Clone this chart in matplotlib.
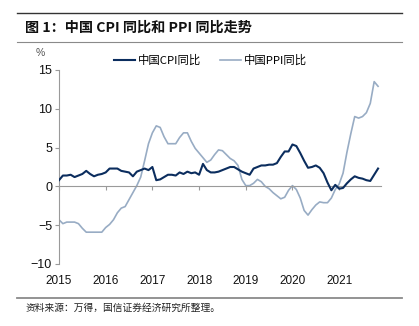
import matplotlib
matplotlib.use('Agg')
from matplotlib import pyplot as plt
from matplotlib.lines import Line2D

plt.rcParams['font.family'] = ['Liberation Sans', 'Noto Sans CJK SC', 'DejaVu Sans']
plt.rcParams['axes.unicode_minus'] = True

# 月度同比数据：2015年1月 — 2021年11月
cpi = [0.8, 1.4, 1.4, 1.5, 1.2, 1.4, 1.6, 2.0, 1.6, 1.3, 1.5, 1.6,
       1.8, 2.3, 2.3, 2.3, 2.0, 1.9, 1.8, 1.3, 1.9, 2.1, 2.3, 2.1,
       2.5, 0.8, 0.9, 1.2, 1.5, 1.5, 1.4, 1.8, 1.6, 1.9, 1.7, 1.8,
       1.5, 2.9, 2.1, 1.8, 1.8, 1.9, 2.1, 2.3, 2.5, 2.5, 2.2, 1.9,
       1.7, 1.5, 2.3, 2.5, 2.7, 2.7, 2.8, 2.8, 3.0, 3.8, 4.5, 4.5,
       5.4, 5.2, 4.3, 3.3, 2.4, 2.5, 2.7, 2.4, 1.7, 0.5, -0.5, 0.2,
       -0.3, -0.2, 0.4, 0.9, 1.3, 1.1, 1.0, 0.8, 0.7, 1.5, 2.3]
ppi = [-4.3, -4.8, -4.6, -4.6, -4.6, -4.8, -5.4, -5.9, -5.9, -5.9, -5.9, -5.9,
       -5.3, -4.9, -4.3, -3.4, -2.8, -2.6, -1.7, -0.8, 0.1, 1.2, 3.3, 5.5,
       6.9, 7.8, 7.6, 6.4, 5.5, 5.5, 5.5, 6.3, 6.9, 6.9, 5.8, 4.9,
       4.3, 3.7, 3.1, 3.4, 4.1, 4.7, 4.6, 4.1, 3.6, 3.3, 2.7, 0.9,
       0.1, 0.1, 0.4, 0.9, 0.6, 0.0, -0.3, -0.8, -1.2, -1.6, -1.4, -0.5,
       0.1, -0.4, -1.5, -3.1, -3.7, -3.0, -2.4, -2.0, -2.1, -2.1, -1.5, -0.4,
       0.3, 1.7, 4.4, 6.8, 9.0, 8.8, 9.0, 9.5, 10.7, 13.5, 12.9]
years = ['2015', '2016', '2017', '2018', '2019', '2020', '2021']
yticks = [15, 10, 5, 0, -5, -10]

cpi_color = '#0b2d5e'
ppi_color = '#98acc4'
axis_grey = '#9a9a9a'

fig = plt.figure(figsize=(4.19, 3.26), dpi=100)
ax = fig.add_axes([0.1408, 0.1902, 0.768, 0.5951])

months = range(len(cpi))
ax.plot(months, cpi, color=cpi_color, lw=1.5, zorder=3)
ax.plot(months, ppi, color=ppi_color, lw=1.2, zorder=2)

ax.set_ylim(-10, 15)
ax.set_xlim(0, len(cpi) - 0.3)
ax.set_yticks(yticks)
ax.set_yticklabels([str(v).replace('-', '\u2212') for v in yticks])
ax.tick_params(axis='y', length=3, width=0.8, color=axis_grey, labelsize=9,
               labelcolor='#111111', pad=2)

# x 轴刻度线在零线上，年份标签放在底部
ax.spines['bottom'].set_position(('data', 0))
ax.spines['bottom'].set_color(axis_grey)
ax.spines['bottom'].set_linewidth(0.8)
ax.spines['left'].set_color(axis_grey)
ax.spines['left'].set_linewidth(0.8)
ax.spines['top'].set_visible(False)
ax.spines['right'].set_visible(False)
year_ticks = [12 * i for i in range(len(years))]
ax.set_xticks(year_ticks)
ax.tick_params(axis='x', length=3, width=0.8, color=axis_grey, labelbottom=False)

sec = ax.secondary_xaxis('bottom')
sec.set_xticks(year_ticks)
sec.set_xticklabels(years)
sec.tick_params(length=0, labelsize=8.5, labelcolor='#111111', pad=8)
sec.spines['bottom'].set_visible(False)

fig.text(0.097, 0.838, '%', fontsize=7.5, color='#555555', ha='center', va='center')

handles = [Line2D([], [], color=cpi_color, lw=1.5),
           Line2D([], [], color=ppi_color, lw=1.2)]
fig.legend(handles, ['中国CPI同比', '中国PPI同比'], loc='center',
           bbox_to_anchor=(0.502, 0.816), ncol=2, frameon=False,
           prop={'family': ['Noto Sans CJK SC', 'DejaVu Sans'], 'size': 8.2},
           handlelength=1.9, handletextpad=0.25, columnspacing=1.6)

# 标题与来源
fig.add_artist(Line2D([0.04, 0.96], [1 - 13 / 326] * 2, color='#333333', lw=1.0))
fig.add_artist(Line2D([0.04, 0.96], [1 - 42 / 326] * 2, color='#8a8a8a', lw=0.8))
fig.add_artist(Line2D([0.04, 0.96], [1 - 298 / 326] * 2, color='#8a8a8a', lw=1.3))
fig.text(0.06, 1 - 28 / 326, '图 1：中国 CPI 同比和 PPI 同比走势', fontsize=10.2,
         fontweight='bold', family=['Noto Sans CJK SC', 'DejaVu Sans'],
         ha='left', va='center', color='#111111')
fig.text(0.06, 1 - 308 / 326, '资料来源：万得，国信证券经济研究所整理。', fontsize=7,
         family=['Noto Sans CJK SC', 'DejaVu Sans'], ha='left', va='center',
         color='#222222')

fig.savefig('out.png', dpi=100)
